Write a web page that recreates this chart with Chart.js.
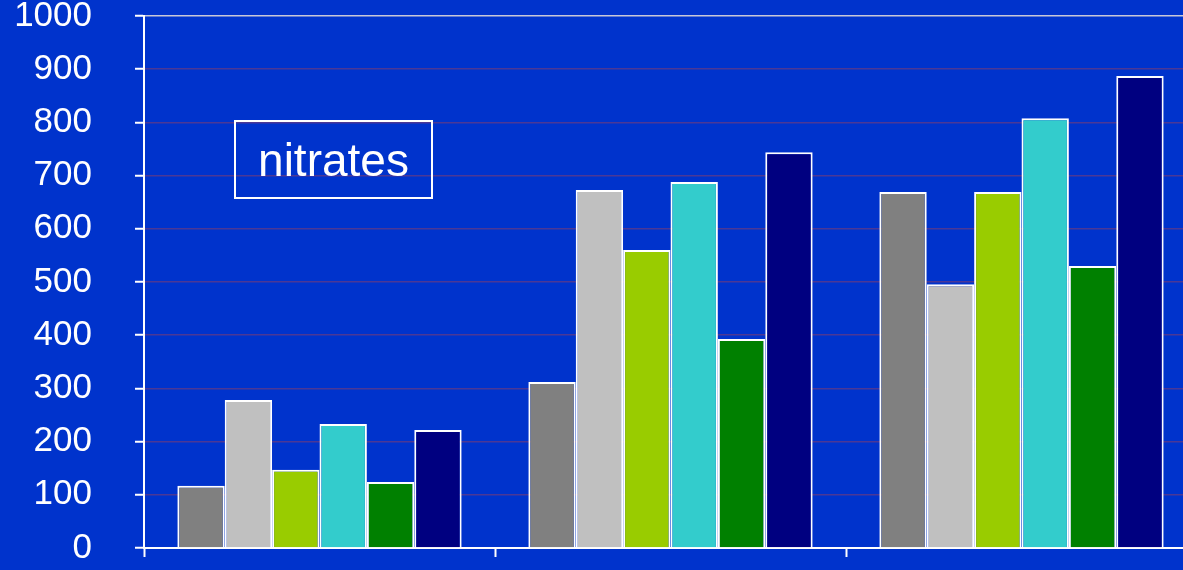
<!DOCTYPE html>
<html>
<head>
<meta charset="utf-8">
<script src="https://cdn.jsdelivr.net/npm/chart.js@4"></script>
<style>
  html, body { margin: 0; padding: 0; background: #0033CC; overflow: hidden; }
  #wrap { position: relative; width: 1200px; height: 570px; }
  #label {
    position: absolute; left: 234px; top: 120px; width: 195px; height: 75px;
    border: 2px solid #ffffff; color: #ffffff;
    font: 46px Arial, "Liberation Sans", sans-serif;
    display: flex; align-items: center; justify-content: center;
  }
</style>
</head>
<body>
<div id="wrap">
  <canvas id="chart" width="1200" height="570"></canvas>
  <div id="label">nitrates</div>
</div>
<script>
// three sampling groups, six series each
const groups = ['', '', ''];
const seriesColors = ['#808080', '#C0C0C0', '#99CC00', '#33CCCC', '#008000', '#000080'];
const s1 = [117, 312, 669];
const s2 = [278, 673, 496];
const s3 = [147, 560, 669];
const s4 = [233, 688, 808];
const s5 = [124, 393, 530];
const s6 = [222, 744, 887];
const yMax = 1000;
const yStep = 100;

const seriesData = [s1, s2, s3, s4, s5, s6];

const bgPlugin = {
  id: 'bg',
  beforeDraw(chart) {
    const c = chart.ctx;
    c.save();
    c.fillStyle = '#0033CC';
    c.fillRect(0, 0, chart.width, chart.height);
    c.restore();
  }
};

new Chart(document.getElementById('chart'), {
  type: 'bar',
  data: {
    labels: groups,
    datasets: seriesData.map((d, i) => ({
      data: d,
      backgroundColor: seriesColors[i],
      borderColor: '#ffffff',
      borderWidth: 2,
      categoryPercentage: 0.81,
      barPercentage: 1.0
    }))
  },
  options: {
    responsive: false,
    animation: false,
    layout: { padding: { top: 16, right: 3, bottom: 13 } },
    plugins: { legend: { display: false }, tooltip: { enabled: false } },
    scales: {
      x: {
        grid: { offset: true, drawOnChartArea: false, drawTicks: true, tickLength: 9, tickColor: '#ffffff', tickWidth: 2 },
        border: { color: '#ffffff', width: 2 },
        ticks: { display: false }
      },
      y: {
        min: 0, max: yMax,
        afterFit(scale) {
          scale.width = 144;
          scale.paddingTop = 0;
          scale.paddingBottom = 0;
        },
        grid: {
          color: ctx => ctx.index === 10 ? '#c8c8d8' : '#4b3896',
          lineWidth: 1.5,
          tickColor: '#ffffff', tickLength: 9, tickWidth: 2
        },
        border: { color: '#ffffff', width: 2 },
        ticks: {
          stepSize: yStep,
          color: '#ffffff', padding: 43,
          callback: v => String(v),
          font: { family: 'Arial, "Liberation Sans", sans-serif', size: 35 }
        }
      }
    }
  },
  plugins: [bgPlugin]
});
</script>
</body>
</html>
